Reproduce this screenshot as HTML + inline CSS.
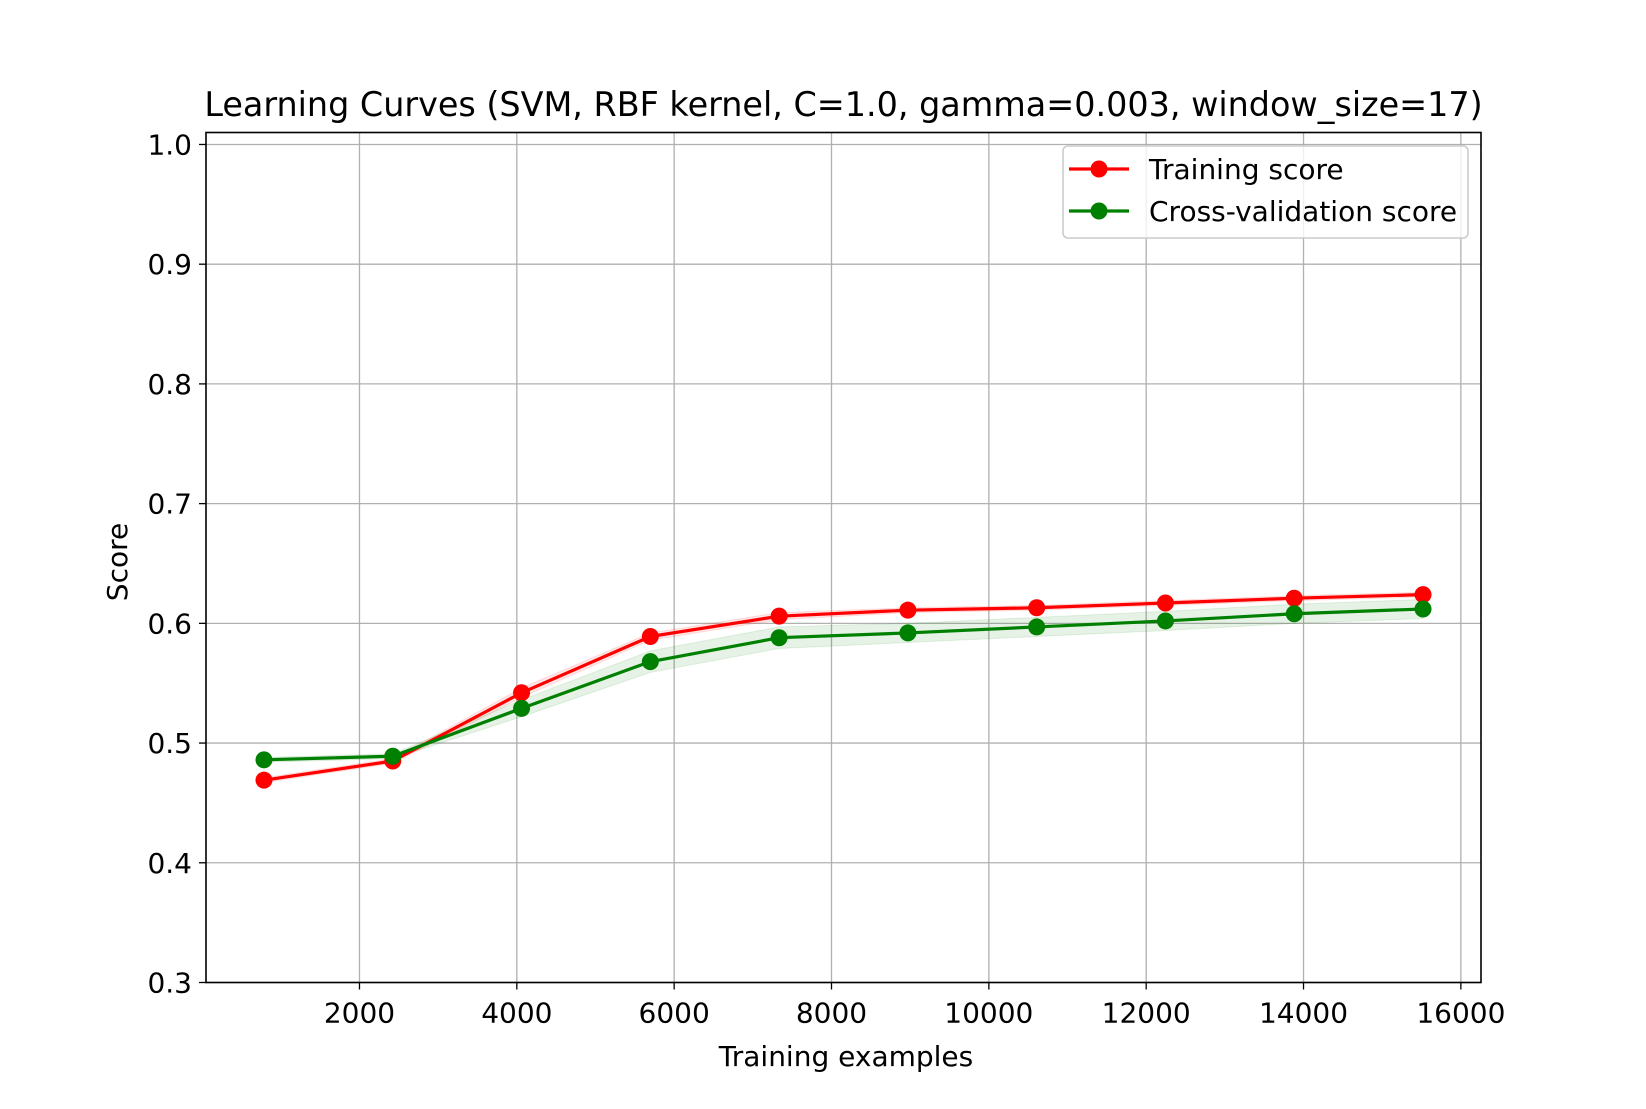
<!DOCTYPE html>
<html><head><meta charset="utf-8"><style>
html,body{margin:0;padding:0;background:#fff}
svg text{font-family:"DejaVu Sans","Liberation Sans",sans-serif;fill:#000}
</style></head><body>
<svg id="chart" width="1646" height="1104" viewBox="0 0 1646 1104" xmlns="http://www.w3.org/2000/svg">
<rect width="1646" height="1104" fill="#fff"/>
<g id="grid"></g>
<g id="bands"></g>
<g id="series"></g>
<rect x="206" y="132.5" width="1275" height="850" fill="none" stroke="#000" stroke-width="1.6"/>
<g id="ticks"></g>
<text x="843.5" y="116" font-size="33.4" text-anchor="middle">Learning Curves (SVM, RBF kernel, C=1.0, gamma=0.003, window_size=17)</text>
<text x="846" y="1066" font-size="28" text-anchor="middle">Training examples</text>
<text transform="translate(127,562) rotate(-90)" font-size="28" text-anchor="middle">Score</text>
<g>
<rect x="1063" y="146" width="405" height="92" rx="5" fill="#fff" fill-opacity="0.8" stroke="#ccc" stroke-width="1.6"/>
<line x1="1069" y1="169" x2="1129" y2="169" stroke="#ff0000" stroke-width="3.2"/>
<circle cx="1099" cy="169" r="8.5" fill="#ff0000"/>
<text x="1149" y="179" font-size="28">Training score</text>
<line x1="1069" y1="211" x2="1129" y2="211" stroke="#008000" stroke-width="3.2"/>
<circle cx="1099" cy="211" r="8.5" fill="#008000"/>
<text x="1149" y="221" font-size="28">Cross-validation score</text>
</g>
</svg>
<script>
const trainSizes = [786, 2423, 4060, 5697, 7334, 8971, 10608, 12245, 13882, 15519];
const trainScores = [0.469, 0.485, 0.542, 0.589, 0.606, 0.611, 0.613, 0.617, 0.621, 0.624];
const trainStd = [0.002, 0.002, 0.004, 0.003, 0.003, 0.002, 0.002, 0.002, 0.002, 0.002];
const cvScores = [0.486, 0.489, 0.529, 0.568, 0.588, 0.592, 0.597, 0.602, 0.608, 0.612];
const cvStd = [0.002, 0.002, 0.007, 0.009, 0.009, 0.008, 0.008, 0.008, 0.008, 0.008];
const xTicks = [2000, 4000, 6000, 8000, 10000, 12000, 14000, 16000];
const yTicks = [0.3, 0.4, 0.5, 0.6, 0.7, 0.8, 0.9, 1.0];

const L=206,R=1481,T=132.5,B=982.5;
const xMin=49,xMax=16256,yMin=0.3,yMax=1.01;
const xs=v=>L+(v-xMin)/(xMax-xMin)*(R-L);
const ys=v=>B-(v-yMin)/(yMax-yMin)*(B-T);
const NS='http://www.w3.org/2000/svg';
function mk(tag,attrs,parent){const e=document.createElementNS(NS,tag);for(const k in attrs)e.setAttribute(k,attrs[k]);parent.appendChild(e);return e;}
const grid=document.getElementById('grid'),ticks=document.getElementById('ticks');
xTicks.forEach(v=>{const x=xs(v);
 const g=mk('line',{x1:x,x2:x,y1:T,y2:B,stroke:'#b0b0b0','stroke-width':1.3},grid);
 
 
 mk('line',{x1:x,x2:x,y1:B,y2:B+7,stroke:'#000','stroke-width':1.3},ticks);
 const t=mk('text',{x:x,y:B+40,'font-size':28,'text-anchor':'middle'},ticks);t.textContent=v;
 
 
});
yTicks.forEach(v=>{const y=ys(v);
 const g=mk('line',{x1:L,x2:R,y1:y,y2:y,stroke:'#b0b0b0','stroke-width':1.3},grid);
 
 
 mk('line',{x1:L-7,x2:L,y1:y,y2:y,stroke:'#000','stroke-width':1.3},ticks);
 const t=mk('text',{x:L-14,y:y+10,'font-size':28,'text-anchor':'end'},ticks);t.textContent=v.toFixed(1);
 
 
});
function band(m,s,color,name){
 let up=trainSizes.map((x,i)=>xs(x)+','+ys(m[i]+s[i]));
 let dn=trainSizes.map((x,i)=>xs(x)+','+ys(m[i]-s[i])).reverse();
 const p=mk('polygon',{points:up.concat(dn).join(' '),fill:color,'fill-opacity':0.1,stroke:color,'stroke-opacity':0.1},document.getElementById('bands'));
 
 
}
band(trainScores,trainStd,'#ff0000','training-std-band');
band(cvScores,cvStd,'#008000','cv-std-band');
function line(m,color,name){
 const s=document.getElementById('series');
 const p=mk('polyline',{points:trainSizes.map((x,i)=>xs(x)+','+ys(m[i])).join(' '),fill:'none',stroke:color,'stroke-width':3.2,'stroke-linejoin':'round'},s);
 
 
 trainSizes.forEach((x,i)=>{const c=mk('circle',{cx:xs(x),cy:ys(m[i]),r:8.5,fill:color},s);
  
  });
}
line(trainScores,'#ff0000','training-score');
line(cvScores,'#008000','cv-score');
</script>
</body></html>
